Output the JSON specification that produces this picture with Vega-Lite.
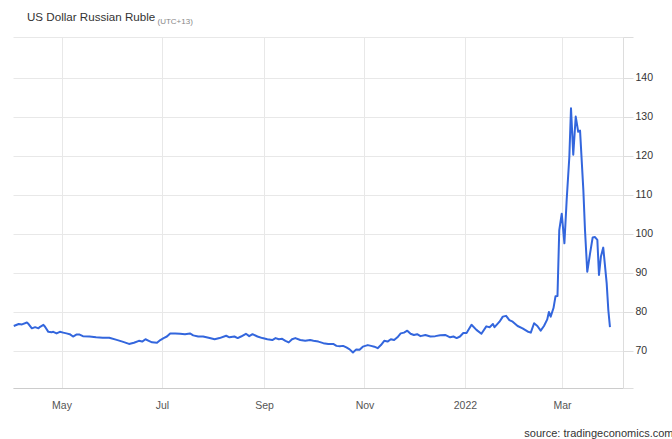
{
  "$schema": "https://vega.github.io/schema/vega-lite/v6.json",
  "width": 610,
  "height": 351,
  "autosize": {"type": "none"},
  "padding": {"left": 13, "top": 37, "right": 49, "bottom": 51},
  "background": "#ffffff",
  "config": {"view": {"stroke": null}, "font": "Liberation Sans"},
  "title": {
    "text": "US Dollar Russian Ruble",
    "anchor": "start",
    "frame": "group",
    "dx": 14,
    "dy": 29,
    "baseline": "alphabetic",
    "offset": 13,
    "fontSize": 11.6,
    "fontWeight": "normal",
    "color": "#333333",
    "font": "Liberation Sans"
  },
  "data": {
    "values": [
      {"date": "2021-04-02T00:00", "rate": 76.4},
      {"date": "2021-04-05T00:00", "rate": 76.9},
      {"date": "2021-04-07T00:00", "rate": 76.8},
      {"date": "2021-04-10T00:00", "rate": 77.3},
      {"date": "2021-04-11T00:00", "rate": 76.9},
      {"date": "2021-04-13T00:00", "rate": 75.8},
      {"date": "2021-04-15T00:00", "rate": 76.1},
      {"date": "2021-04-17T00:00", "rate": 75.8},
      {"date": "2021-04-18T00:00", "rate": 76.2},
      {"date": "2021-04-20T00:00", "rate": 76.7},
      {"date": "2021-04-21T00:00", "rate": 76.2},
      {"date": "2021-04-23T00:00", "rate": 74.9},
      {"date": "2021-04-25T00:00", "rate": 74.8},
      {"date": "2021-04-26T00:00", "rate": 74.9},
      {"date": "2021-04-28T00:00", "rate": 74.5},
      {"date": "2021-04-30T00:00", "rate": 74.9},
      {"date": "2021-05-02T00:00", "rate": 74.7},
      {"date": "2021-05-04T00:00", "rate": 74.5},
      {"date": "2021-05-06T00:00", "rate": 74.3},
      {"date": "2021-05-08T00:00", "rate": 73.7},
      {"date": "2021-05-10T00:00", "rate": 74.2},
      {"date": "2021-05-12T00:00", "rate": 74.2},
      {"date": "2021-05-14T00:00", "rate": 73.8},
      {"date": "2021-05-18T00:00", "rate": 73.7},
      {"date": "2021-05-22T00:00", "rate": 73.5},
      {"date": "2021-05-26T00:00", "rate": 73.4},
      {"date": "2021-05-30T00:00", "rate": 73.4},
      {"date": "2021-06-03T00:00", "rate": 72.9},
      {"date": "2021-06-07T00:00", "rate": 72.4},
      {"date": "2021-06-11T00:00", "rate": 71.8},
      {"date": "2021-06-14T00:00", "rate": 72.1},
      {"date": "2021-06-17T00:00", "rate": 72.6},
      {"date": "2021-06-19T00:00", "rate": 72.4},
      {"date": "2021-06-21T00:00", "rate": 73.0},
      {"date": "2021-06-23T00:00", "rate": 72.6},
      {"date": "2021-06-25T00:00", "rate": 72.2},
      {"date": "2021-06-28T00:00", "rate": 72.1},
      {"date": "2021-06-30T00:00", "rate": 72.8},
      {"date": "2021-07-02T00:00", "rate": 73.3},
      {"date": "2021-07-04T00:00", "rate": 73.7},
      {"date": "2021-07-06T00:00", "rate": 74.5},
      {"date": "2021-07-09T00:00", "rate": 74.5},
      {"date": "2021-07-12T00:00", "rate": 74.4},
      {"date": "2021-07-15T00:00", "rate": 74.3},
      {"date": "2021-07-18T00:00", "rate": 74.5},
      {"date": "2021-07-20T00:00", "rate": 74.0},
      {"date": "2021-07-23T00:00", "rate": 73.7},
      {"date": "2021-07-26T00:00", "rate": 73.7},
      {"date": "2021-07-30T00:00", "rate": 73.3},
      {"date": "2021-08-02T00:00", "rate": 73.0},
      {"date": "2021-08-05T00:00", "rate": 73.3},
      {"date": "2021-08-09T00:00", "rate": 73.9},
      {"date": "2021-08-11T00:00", "rate": 73.5},
      {"date": "2021-08-14T00:00", "rate": 73.7},
      {"date": "2021-08-16T00:00", "rate": 73.3},
      {"date": "2021-08-18T00:00", "rate": 73.7},
      {"date": "2021-08-21T00:00", "rate": 74.4},
      {"date": "2021-08-23T00:00", "rate": 73.8},
      {"date": "2021-08-25T00:00", "rate": 74.3},
      {"date": "2021-08-28T00:00", "rate": 73.7},
      {"date": "2021-08-31T00:00", "rate": 73.3},
      {"date": "2021-09-03T00:00", "rate": 73.0},
      {"date": "2021-09-06T00:00", "rate": 72.8},
      {"date": "2021-09-08T00:00", "rate": 73.3},
      {"date": "2021-09-10T00:00", "rate": 73.0},
      {"date": "2021-09-12T00:00", "rate": 73.1},
      {"date": "2021-09-14T00:00", "rate": 72.6},
      {"date": "2021-09-16T00:00", "rate": 72.2},
      {"date": "2021-09-18T00:00", "rate": 73.0},
      {"date": "2021-09-20T00:00", "rate": 73.3},
      {"date": "2021-09-23T00:00", "rate": 72.8},
      {"date": "2021-09-26T00:00", "rate": 72.6},
      {"date": "2021-09-29T00:00", "rate": 72.8},
      {"date": "2021-10-01T00:00", "rate": 72.6},
      {"date": "2021-10-04T00:00", "rate": 72.4},
      {"date": "2021-10-07T00:00", "rate": 72.0},
      {"date": "2021-10-10T00:00", "rate": 71.8},
      {"date": "2021-10-13T00:00", "rate": 71.8},
      {"date": "2021-10-15T00:00", "rate": 71.3},
      {"date": "2021-10-17T00:00", "rate": 71.2},
      {"date": "2021-10-19T00:00", "rate": 71.3},
      {"date": "2021-10-21T00:00", "rate": 70.9},
      {"date": "2021-10-23T00:00", "rate": 70.4},
      {"date": "2021-10-25T00:00", "rate": 69.6},
      {"date": "2021-10-27T00:00", "rate": 70.4},
      {"date": "2021-10-29T00:00", "rate": 70.3},
      {"date": "2021-10-31T00:00", "rate": 71.1},
      {"date": "2021-11-03T00:00", "rate": 71.5},
      {"date": "2021-11-05T00:00", "rate": 71.3},
      {"date": "2021-11-07T00:00", "rate": 71.1},
      {"date": "2021-11-09T00:00", "rate": 70.7},
      {"date": "2021-11-11T00:00", "rate": 71.5},
      {"date": "2021-11-13T00:00", "rate": 72.6},
      {"date": "2021-11-15T00:00", "rate": 72.4},
      {"date": "2021-11-17T00:00", "rate": 73.0},
      {"date": "2021-11-19T00:00", "rate": 72.8},
      {"date": "2021-11-21T00:00", "rate": 73.5},
      {"date": "2021-11-23T00:00", "rate": 74.5},
      {"date": "2021-11-25T00:00", "rate": 74.7},
      {"date": "2021-11-27T00:00", "rate": 75.2},
      {"date": "2021-11-29T00:00", "rate": 74.4},
      {"date": "2021-12-01T00:00", "rate": 74.1},
      {"date": "2021-12-03T00:00", "rate": 74.3},
      {"date": "2021-12-05T00:00", "rate": 73.8},
      {"date": "2021-12-08T00:00", "rate": 74.1},
      {"date": "2021-12-11T00:00", "rate": 73.7},
      {"date": "2021-12-14T00:00", "rate": 73.8},
      {"date": "2021-12-17T00:00", "rate": 74.0},
      {"date": "2021-12-20T00:00", "rate": 74.1},
      {"date": "2021-12-23T00:00", "rate": 73.5},
      {"date": "2021-12-25T00:00", "rate": 73.7},
      {"date": "2021-12-27T00:00", "rate": 73.3},
      {"date": "2021-12-29T00:00", "rate": 73.7},
      {"date": "2021-12-31T00:00", "rate": 74.6},
      {"date": "2022-01-02T00:00", "rate": 74.6},
      {"date": "2022-01-05T00:00", "rate": 76.7},
      {"date": "2022-01-08T00:00", "rate": 75.4},
      {"date": "2022-01-11T00:00", "rate": 74.4},
      {"date": "2022-01-14T00:00", "rate": 76.3},
      {"date": "2022-01-16T00:00", "rate": 76.1},
      {"date": "2022-01-18T00:00", "rate": 76.9},
      {"date": "2022-01-19T00:00", "rate": 76.1},
      {"date": "2022-01-22T00:00", "rate": 77.5},
      {"date": "2022-01-24T00:00", "rate": 78.8},
      {"date": "2022-01-26T00:00", "rate": 79.0},
      {"date": "2022-01-28T00:00", "rate": 77.9},
      {"date": "2022-01-30T00:00", "rate": 77.5},
      {"date": "2022-02-02T00:00", "rate": 76.4},
      {"date": "2022-02-05T00:00", "rate": 75.8},
      {"date": "2022-02-08T00:00", "rate": 75.0},
      {"date": "2022-02-10T00:00", "rate": 74.7},
      {"date": "2022-02-12T00:00", "rate": 77.1},
      {"date": "2022-02-14T00:00", "rate": 76.4},
      {"date": "2022-02-16T00:00", "rate": 75.2},
      {"date": "2022-02-18T00:00", "rate": 76.4},
      {"date": "2022-02-20T00:00", "rate": 78.1},
      {"date": "2022-02-21T00:00", "rate": 80.0},
      {"date": "2022-02-22T02:00", "rate": 78.8},
      {"date": "2022-02-23T19:00", "rate": 81.0},
      {"date": "2022-02-25T00:00", "rate": 84.0},
      {"date": "2022-02-26T05:00", "rate": 84.1},
      {"date": "2022-02-27T07:00", "rate": 101.0},
      {"date": "2022-02-28T19:00", "rate": 105.2},
      {"date": "2022-03-02T10:00", "rate": 97.6},
      {"date": "2022-03-03T19:00", "rate": 108.7},
      {"date": "2022-03-05T10:00", "rate": 119.8},
      {"date": "2022-03-06T10:00", "rate": 132.2},
      {"date": "2022-03-07T19:00", "rate": 120.3},
      {"date": "2022-03-09T07:00", "rate": 130.1},
      {"date": "2022-03-10T19:00", "rate": 126.2},
      {"date": "2022-03-11T22:00", "rate": 126.5},
      {"date": "2022-03-13T22:00", "rate": 111.3},
      {"date": "2022-03-14T22:00", "rate": 101.0},
      {"date": "2022-03-16T07:00", "rate": 90.3},
      {"date": "2022-03-18T00:00", "rate": 95.0},
      {"date": "2022-03-19T14:00", "rate": 99.1},
      {"date": "2022-03-21T00:00", "rate": 99.2},
      {"date": "2022-03-22T10:00", "rate": 98.5},
      {"date": "2022-03-23T10:00", "rate": 89.5},
      {"date": "2022-03-24T14:00", "rate": 94.2},
      {"date": "2022-03-26T00:00", "rate": 96.5},
      {"date": "2022-03-28T02:00", "rate": 87.4},
      {"date": "2022-03-29T02:00", "rate": 80.5},
      {"date": "2022-03-30T02:00", "rate": 76.1}
    ]
  },
  "mark": {"type": "line", "color": "#3366dd", "strokeWidth": 2, "strokeJoin": "round", "clip": true},
  "encoding": {
    "x": {
      "field": "date",
      "type": "temporal",
      "scale": {"domain": ["2021-04-01T13:00", "2022-04-07T00:00"]},
      "axis": {
        "title": "source: tradingeconomics.com",
        "titleX": 660,
        "titleY": 48,
        "titleAlign": "right",
        "titleBaseline": "alphabetic",
        "titleFontSize": 11,
        "titleFontWeight": "normal",
        "titleColor": "#333333",
        "titleFont": "Liberation Sans",
        "tickCount": {"interval": "month", "step": 2},
        "labelExpr": "month(datum.value) == 0 ? timeFormat(datum.value, '%Y') : timeFormat(datum.value, '%b')",
        "grid": true,
        "gridColor": "#e8e8e8",
        "domain": true,
        "domainColor": "#cccccc",
        "ticks": false,
        "labelPadding": 12,
        "labelFontSize": 10.5,
        "labelColor": "#555555",
        "labelFont": "Liberation Sans"
      }
    },
    "y": {
      "field": "rate",
      "type": "quantitative",
      "scale": {"domain": [60.5, 150.5], "nice": false, "zero": false},
      "axis": {
        "orient": "right",
        "values": [60.5, 70, 80, 90, 100, 110, 120, 130, 140, 150.5],
        "labelExpr": "(datum.value == 60.5 || datum.value == 150.5) ? '' : datum.label",
        "grid": true,
        "gridColor": "#e8e8e8",
        "domain": true,
        "domainColor": "#dddddd",
        "ticks": true,
        "tickColor": "#dddddd",
        "tickSize": 10,
        "labelPadding": 2,
        "labelFontSize": 10.5,
        "labelColor": "#333333",
        "labelFont": "Liberation Sans",
        "title": "(UTC+13)",
        "titleAngle": 0,
        "titleX": -466,
        "titleY": -14,
        "titleAlign": "left",
        "titleBaseline": "alphabetic",
        "titleFontSize": 8,
        "titleFontWeight": "normal",
        "titleColor": "#888888",
        "titleFont": "Liberation Sans"
      }
    }
  }
}
